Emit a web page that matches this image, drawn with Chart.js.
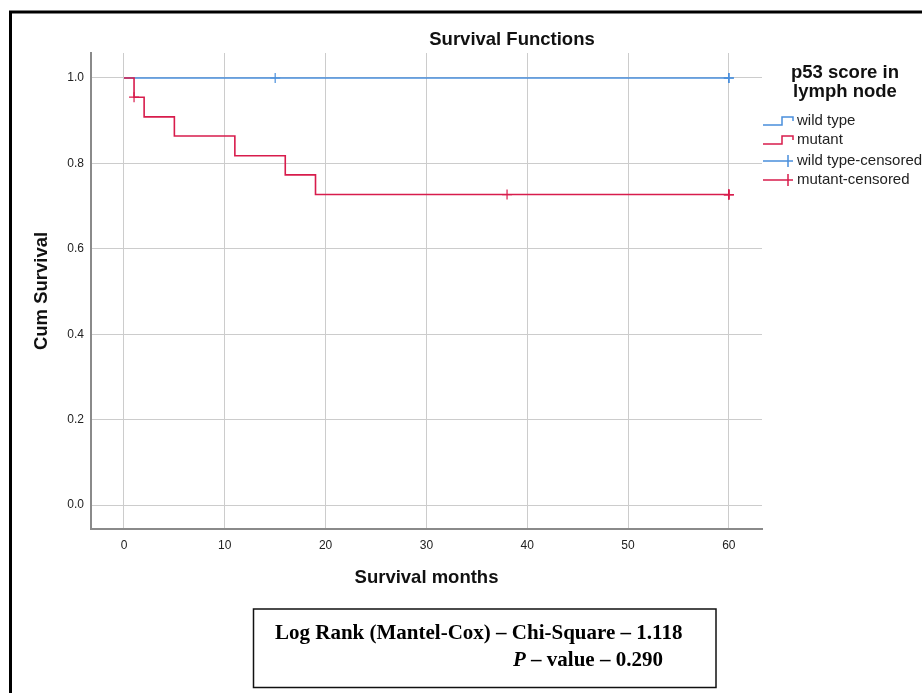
<!DOCTYPE html>
<html>
<head>
<meta charset="utf-8">
<title>Survival Functions</title>
<script src="https://cdn.jsdelivr.net/npm/chart.js@4/dist/chart.umd.min.js"></script>
<style>
  html, body { margin: 0; padding: 0; background: #ffffff; }
  #wrap { position: absolute; left: 0; top: 0; width: 922px; height: 693px; }
</style>
</head>
<body>
<div id="wrap"><canvas id="km" width="922" height="693"></canvas></div>
<script>
// Kaplan-Meier estimates, p53 score in lymph node
const mutantTimes = [0, 1, 2, 5, 11, 16, 19, 60];
const mutantSurvival = [1.0, 0.955, 0.909, 0.864, 0.818, 0.773, 0.727, 0.727];
const wildTimes = [0, 60];
const wildSurvival = [1.0, 1.0];

// censored observations
const wildCensoredTimes = [15, 60, 60, 60];
const wildCensoredSurvival = [1.0, 1.0, 1.0, 1.0];
const mutantCensoredTimes = [1, 38, 60, 60, 60, 60];
const mutantCensoredSurvival = [0.955, 0.727, 0.727, 0.727, 0.727, 0.727];

const xTicks = [0, 10, 20, 30, 40, 50, 60];
const yTicks = [0.0, 0.2, 0.4, 0.6, 0.8, 1.0];

const legendTitle = ['p53 score in', 'lymph node'];
const legendLabels = ['wild type', 'mutant', 'wild type-censored', 'mutant-censored'];
const chartTitle = 'Survival Functions';
const statLine1 = 'Log Rank (Mantel-Cox) \u2013 Chi-Square \u2013 1.118';
const statLine2P = 'P';
const statLine2 = ' \u2013 value \u2013 0.290';

const BLUE = '#4a8fdc';
const RED = '#d81c4c';
const SANS = '"Liberation Sans", Arial, sans-serif';
const SERIF = '"Liberation Serif", "Times New Roman", serif';

const toPoints = (xs, ys) => xs.map((x, i) => ({ x: x, y: ys[i] }));

const decor = {
  id: 'decor',
  afterDraw(chart) {
    const ctx = chart.ctx;
    ctx.save();
    // page frame
    ctx.strokeStyle = '#000000';
    ctx.lineWidth = 3;
    ctx.beginPath();
    ctx.moveTo(10.5, 700);
    ctx.lineTo(10.5, 12);
    ctx.lineTo(930, 12);
    ctx.stroke();

    // title
    ctx.fillStyle = '#111111';
    ctx.textAlign = 'center';
    ctx.textBaseline = 'middle';
    ctx.font = 'bold 18.5px ' + SANS;
    ctx.fillText(chartTitle, 512, 40);

    // legend
    ctx.fillText(legendTitle[0], 845, 73);
    ctx.fillText(legendTitle[1], 845, 92);

    const rows = [121, 140, 161, 180];
    const colors = [BLUE, RED, BLUE, RED];
    ctx.lineWidth = 1.5;
    rows.forEach((y, i) => {
      ctx.strokeStyle = colors[i];
      ctx.beginPath();
      if (i < 2) {
        ctx.moveTo(763, y + 4);
        ctx.lineTo(782, y + 4);
        ctx.lineTo(782, y - 4);
        ctx.lineTo(793, y - 4);
        ctx.lineTo(793, y);
      } else {
        ctx.moveTo(763, y);
        ctx.lineTo(793, y);
        ctx.moveTo(788, y - 6);
        ctx.lineTo(788, y + 6);
      }
      ctx.stroke();
    });
    ctx.fillStyle = '#222222';
    ctx.textAlign = 'left';
    ctx.font = '15px ' + SANS;
    rows.forEach((y, i) => ctx.fillText(legendLabels[i], 797, y));

    // log rank box
    ctx.strokeStyle = '#111111';
    ctx.lineWidth = 1.5;
    ctx.strokeRect(253.5, 609, 462.5, 78.5);
    ctx.fillStyle = '#000000';
    ctx.textAlign = 'left';
    ctx.font = 'bold 21px ' + SERIF;
    ctx.fillText(statLine1, 275, 634);
    ctx.font = 'italic bold 21px ' + SERIF;
    ctx.fillText(statLine2P, 513, 661);
    const pw = ctx.measureText(statLine2P).width;
    ctx.font = 'bold 21px ' + SERIF;
    ctx.fillText(statLine2, 513 + pw, 661);
    ctx.restore();
  }
};

new Chart(document.getElementById('km'), {
  type: 'line',
  data: {
    datasets: [
      {
        label: legendLabels[0],
        data: toPoints(wildTimes, wildSurvival),
        borderColor: BLUE,
        borderWidth: 1.6,
        stepped: 'before',
        pointRadius: 0,
        fill: false,
        order: 4
      },
      {
        label: legendLabels[1],
        data: toPoints(mutantTimes, mutantSurvival),
        borderColor: RED,
        borderWidth: 1.6,
        stepped: 'before',
        pointRadius: 0,
        fill: false,
        order: 3
      },
      {
        label: legendLabels[2],
        data: toPoints(wildCensoredTimes, wildCensoredSurvival),
        showLine: false,
        pointStyle: 'cross',
        pointRadius: 5,
        pointBorderWidth: 1.2,
        borderColor: BLUE,
        backgroundColor: BLUE,
        order: 2
      },
      {
        label: legendLabels[3],
        data: toPoints(mutantCensoredTimes, mutantCensoredSurvival),
        showLine: false,
        pointStyle: 'cross',
        pointRadius: 5,
        pointBorderWidth: 1.2,
        borderColor: RED,
        backgroundColor: RED,
        order: 1
      }
    ]
  },
  options: {
    responsive: false,
    devicePixelRatio: 1,
    animation: false,
    layout: { padding: { top: 53, right: 160, bottom: 100, left: 0 } },
    plugins: {
      legend: { display: false },
      tooltip: { enabled: false },
      title: { display: false }
    },
    scales: {
      x: {
        type: 'linear',
        position: 'bottom',
        min: -3.27,
        max: 63.29,
        afterFit(s) { s.height = 64; },
        afterBuildTicks(s) { s.ticks = xTicks.map(v => ({ value: v })); },
        grid: { color: '#cccccc', lineWidth: 1, drawTicks: false },
        border: { display: true, color: '#8a8a8a', width: 2 },
        ticks: {
          padding: 9,
          color: '#222222',
          font: { family: SANS, size: 12 },
          callback: v => String(v)
        },
        title: {
          display: true,
          text: 'Survival months',
          color: '#111111',
          font: { family: SANS, size: 18.5, weight: 'bold' },
          padding: { top: 0, bottom: 4 }
        }
      },
      y: {
        type: 'linear',
        position: 'left',
        min: -0.0562,
        max: 1.0585,
        afterFit(s) { s.width = 91; },
        afterBuildTicks(s) { s.ticks = yTicks.map(v => ({ value: v })); },
        grid: { color: '#cccccc', lineWidth: 1, drawTicks: false },
        border: { display: true, color: '#8a8a8a', width: 2 },
        ticks: {
          padding: 7,
          color: '#222222',
          font: { family: SANS, size: 12 },
          callback: v => Number(v).toFixed(1)
        },
        title: {
          display: true,
          text: 'Cum Survival',
          color: '#111111',
          font: { family: SANS, size: 18.5, weight: 'bold' },
          padding: { top: 31, bottom: 0 }
        }
      }
    }
  },
  plugins: [decor]
});
</script>
</body>
</html>
